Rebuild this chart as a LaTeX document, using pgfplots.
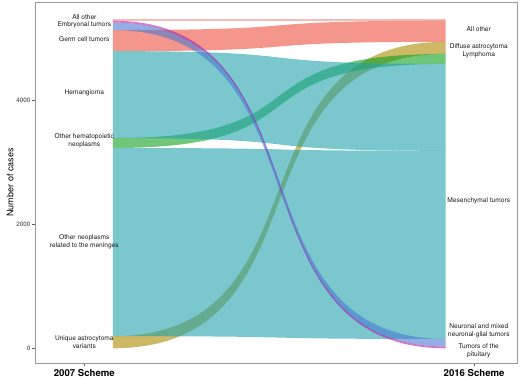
\documentclass[border=0pt]{standalone}
\usepackage{fontspec}
\setmainfont{TeX Gyre Heros}
\usepackage{pgfplots}
\pgfplotsset{compat=1.18}
% fill colours of the 2016 categories (drawn at 60% opacity)
\definecolor{cAllOther}{HTML}{EE503F}
\definecolor{cDiffuse}{HTML}{AC8A00}
\definecolor{cLymph}{HTML}{10A020}
\definecolor{cMesen}{HTML}{21A3AD}
\definecolor{cNeuro}{HTML}{4A78D2}
\definecolor{cPitu}{HTML}{C020A8}
% stratum edges on the x axis and curve control abscissae
\def\xL{1.073}
\def\xR{1.927}
\def\xCa{1.6366}
\def\xCb{1.3634}
% \flow{colour}{left bottom}{left top}{right bottom}{right top}  (cumulative case counts)
\newcommand{\flow}[5]{%
  \fill[#1, fill opacity=0.6]
    (axis cs:\xL,#3) .. controls (axis cs:\xCa,#3) and (axis cs:\xCb,#5) .. (axis cs:\xR,#5)
    -- (axis cs:\xR,#4) .. controls (axis cs:\xCb,#4) and (axis cs:\xCa,#2) .. (axis cs:\xL,#2) -- cycle;}
\newcommand{\lab}{\fontsize{6.6}{8}\selectfont}
\begin{document}
\begin{tikzpicture}
\useasboundingbox (-35pt,-16pt) rectangle (485pt,363pt);
\begin{axis}[
  scale only axis, width=482pt, height=361pt,
  xmin=0.8735, xmax=2.110, ymin=-236.7, ymax=5576.5,
  xtick={1,2}, xticklabels={2007 Scheme,2016 Scheme},
  ytick={0,2000,4000},
  scaled y ticks=false,
  /pgf/number format/assume math mode=true,
  /pgf/number format/1000 sep={},
  xtick pos=lower, ytick pos=left,
  tick align=outside, major tick length=3pt,
  tick style={black!65, line width=0.5pt},
  axis line style={black!40, line width=0.7pt},
  yticklabel style={font=\fontsize{6.3}{7}\selectfont, text=black!75, inner sep=0pt, anchor=east, xshift=-1.5pt},
  xticklabel style={font=\bfseries\fontsize{9.6}{11}\selectfont, text=black, inner sep=0pt, anchor=base, yshift=-10.8pt},
  ylabel={Number of cases},
  ylabel style={font=\fontsize{9}{10}\selectfont, at={(axis description cs:-0.044,0.5)}, anchor=south, inner sep=0pt},
  clip=false,
]
% flows: counts 2007 -> 2016
% Unique astrocytoma variants (195) -> Diffuse astrocytoma
\flow{cDiffuse}{0}{195}{4740}{4935}
% Other hematopoietic neoplasms (160) -> Lymphoma
\flow{cLymph}{3225}{3385}{4580}{4740}
% Other neoplasms related to the meninges (3030) -> Mesenchymal tumors
\flow{cMesen}{195}{3225}{150}{3180}
% Hemangioma (1400) -> Mesenchymal tumors
\flow{cMesen}{3385}{4785}{3180}{4580}
% Germ cell tumors (340) -> All other
\flow{cAllOther}{4785}{5125}{4935}{5275}
% Embryonal tumors (120) -> Neuronal and mixed neuronal-glial tumors
\flow{cNeuro}{5125}{5245}{30}{150}
% All other (50): 30 -> Tumors of the pituitary, 20 -> All other
\flow{cPitu}{5245}{5275}{0}{30}
\flow{cAllOther}{5275}{5295}{5275}{5295}
% stratum labels
\begin{scope}[every node/.style={align=center, font=\lab, text=black!90, inner sep=0pt}]
\node at (axis cs:1,5330) {All other};
\node at (axis cs:1,5206) {Embryonal tumors};
\node at (axis cs:1,4981) {Germ cell tumors};
\node at (axis cs:1,4106) {Hemangioma};
\node at (axis cs:1,3338) {Other hematopoietic\\neoplasms};
\node at (axis cs:1,1720) {Other neoplasms\\related to the meninges};
\node at (axis cs:1,106) {Unique astrocytoma\\variants};
\node at (axis cs:2.012,5137) {All other};
\node at (axis cs:2.012,4847) {Diffuse astrocytoma};
\node at (axis cs:2.012,4723) {Lymphoma};
\node at (axis cs:2.012,2377) {Mesenchymal tumors};
\node at (axis cs:2.012,283) {Neuronal and mixed\\neuronal-glial tumors};
\node at (axis cs:2.012,-39) {Tumors of the\\pituitary};
\end{scope}
\end{axis}
\end{tikzpicture}
\end{document}
